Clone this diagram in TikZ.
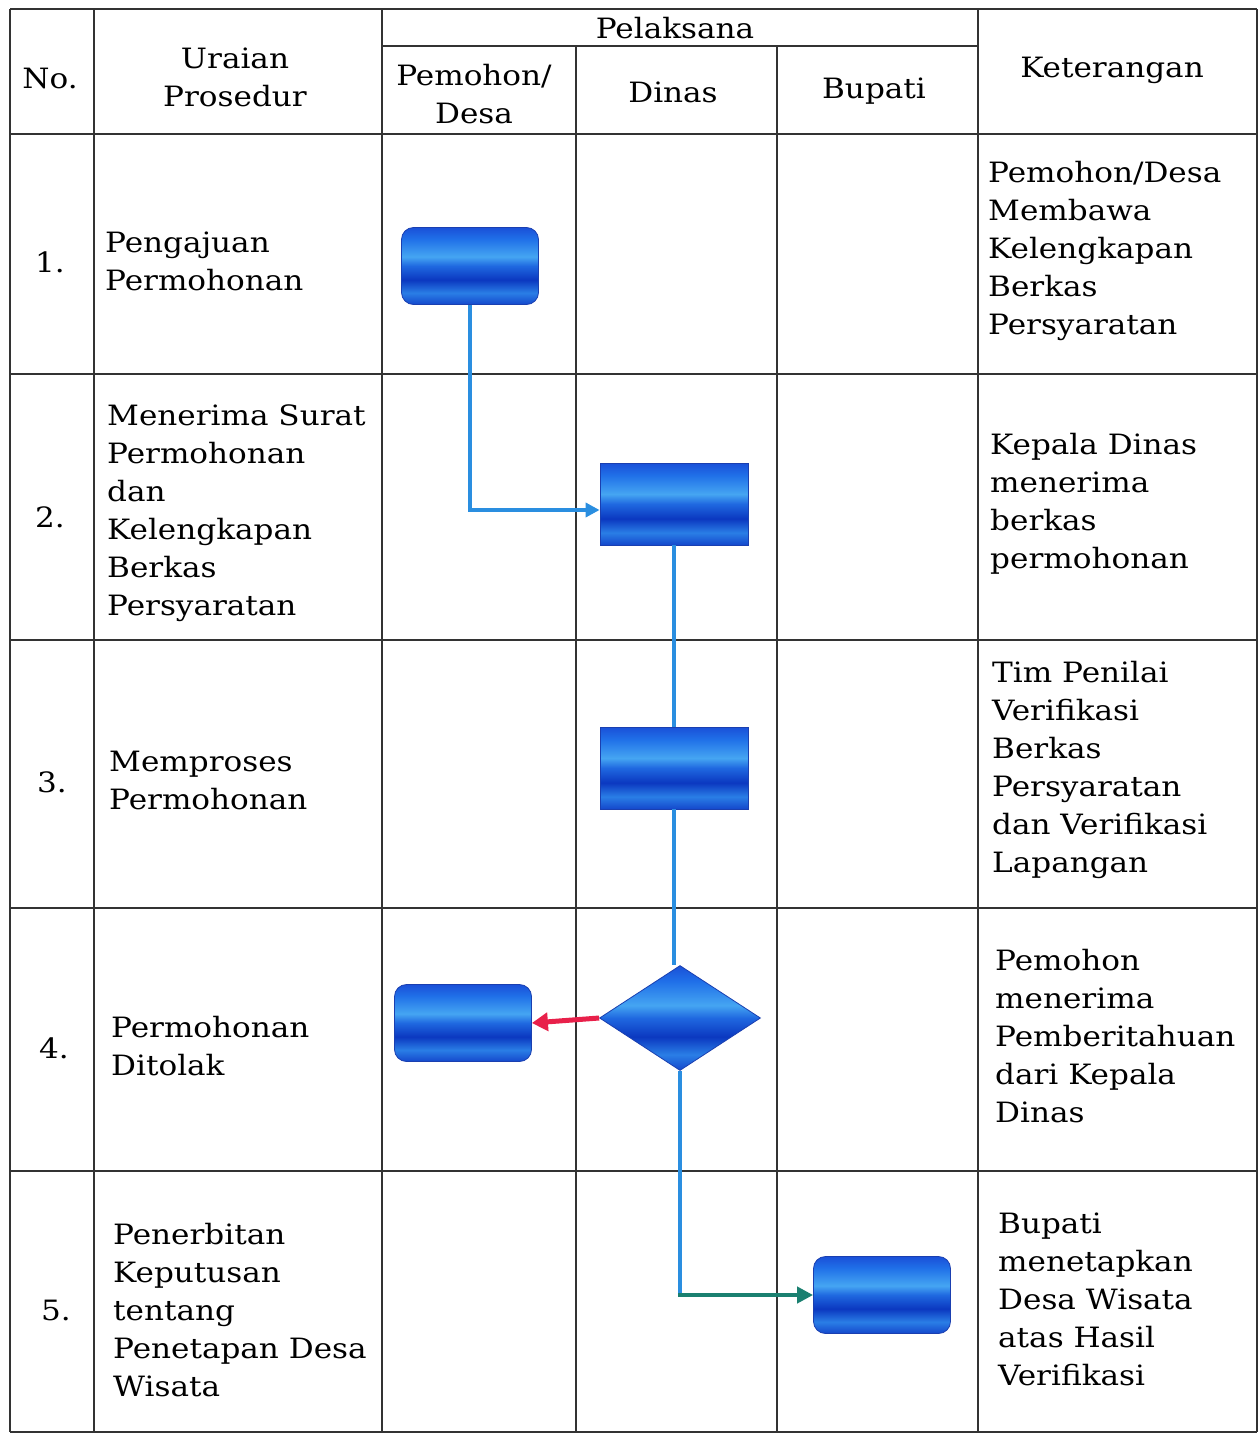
\documentclass[tikz,border=0pt]{standalone}
\usepackage{fontspec}
\setmainfont[FakeStretch=1.11]{DejaVu Serif}
\usetikzlibrary{arrows.meta,shapes.geometric}
\definecolor{bA}{HTML}{1448CC}
\definecolor{bB}{HTML}{2A7EE6}
\definecolor{bC}{HTML}{0B38C0}
\definecolor{bD}{HTML}{1F68E0}
\definecolor{bE}{HTML}{45A5F2}
\definecolor{bF}{HTML}{2070E8}
\definecolor{bG}{HTML}{1A50D8}
\definecolor{edgeblue}{HTML}{1A3FB0}
\definecolor{connblue}{HTML}{2A8EE0}
\definecolor{connred}{HTML}{E8204A}
\definecolor{connteal}{HTML}{1A8070}
\definecolor{gridc}{HTML}{333333}
\pgfdeclareverticalshading{bandblue}{100bp}{color(0bp)=(bA); color(25bp)=(bA); color(32.5bp)=(bB); color(41bp)=(bC); color(50bp)=(bD); color(56bp)=(bE); color(67.5bp)=(bF); color(75bp)=(bG); color(100bp)=(bG)}
\tikzset{
  grid/.style={line width=1.6pt, draw=gridc},
  txt/.style={inner sep=0pt, align=left, anchor=west, font=\fontsize{28}{38}\selectfont},
  hdr/.style={inner sep=0pt, align=center, font=\fontsize{28}{38}\selectfont},
  rbox/.style={rectangle, rounded corners=12pt, minimum width=137pt, minimum height=77pt, shading=bandblue, draw=edgeblue, line width=0.8pt},
  sbox/.style={rectangle, minimum width=148pt, minimum height=82pt, shading=bandblue, draw=edgeblue, line width=0.8pt},
  dia/.style={diamond, aspect=1.55, minimum width=161pt, minimum height=105pt, inner sep=0pt, shading=bandblue, draw=edgeblue, line width=0.8pt},
  conn/.style={line width=3.5pt, draw=connblue},
  connarrow/.style={conn, -{Triangle[length=14pt,width=14pt]}},
  redarrow/.style={line width=5pt, draw=connred, -{Triangle[length=16pt,width=18pt]}},
  tealarrow/.style={line width=4pt, draw=connteal, -{Triangle[length=16pt,width=16pt]}},
}
\begin{document}
\begin{tikzpicture}[x=1pt,y=-1pt]
\useasboundingbox (0,0) rectangle (1260,1435);
\fill[white] (0,0) rectangle (1260,1435);
% grid
\draw[grid] (10,9) -- (1257,9);
\draw[grid] (382,46) -- (978,46);
\foreach \yy in {134,374,640,908,1171,1432} \draw[grid] (10,\yy) -- (1257,\yy);
\foreach \xx in {10,94,382,978,1257} \draw[grid] (\xx,9) -- (\xx,1432);
\foreach \xx in {576,777} \draw[grid] (\xx,46) -- (\xx,1432);
% header
\node[hdr] (hNo) at (50,78) {No.};
\node[hdr] (hUr) at (235,77) {Uraian\\Prosedur};
\node[hdr] (hPel) at (675,28) {Pelaksana};
\node[hdr] (hPem) at (474,94) {Pemohon/\\Desa};
\node[hdr] (hDin) at (673,92) {Dinas};
\node[hdr] (hBup) at (874,91) {Bupati};
\node[hdr] (hKet) at (1112,70) {Keterangan};
% numbers
\node[hdr] (n1) at (50,262) {1.};
\node[hdr] (n2) at (50,517) {2.};
\node[hdr] (n3) at (52,782) {3.};
\node[hdr] (n4) at (54,1048) {4.};
\node[hdr] (n5) at (56,1310) {5.};
% uraian
\node[txt] (u1) at (105,261) {Pengajuan\\Permohonan};
\node[txt] (u2) at (107,513) {Menerima Surat\\Permohonan\\dan\\Kelengkapan\\Berkas\\Persyaratan};
\node[txt] (u3) at (109,780) {Memproses\\Permohonan};
\node[txt] (u4) at (111,1046) {Permohonan\\Ditolak};
\node[txt] (u5) at (113,1310) {Penerbitan\\Keputusan\\tentang\\Penetapan Desa\\Wisata};
% keterangan
\node[txt] (k1) at (988,251) {Pemohon/Desa\\Membawa\\Kelengkapan\\Berkas\\Persyaratan};
\node[txt] (k2) at (990,504) {Kepala Dinas\\menerima\\berkas\\permohonan};
\node[txt] (k3) at (992,770) {Tim Penilai\\Verifikasi\\Berkas\\Persyaratan\\dan Verifikasi\\Lapangan};
\node[txt] (k4) at (995,1036) {Pemohon\\menerima\\Pemberitahuan\\dari Kepala\\Dinas};
\node[txt] (k5) at (998,1299) {Bupati\\menetapkan\\Desa Wisata\\atas Hasil\\Verifikasi};
% shapes
\node[rbox] (b1) at (470,266) {};
\node[sbox] (b2) at (674,504) {};
\node[sbox] (b3) at (674,768) {};
\node[dia] (d) at (680,1018) {};
\node[rbox] (b4) at (463,1023) {};
\node[rbox] (b5) at (882,1295) {};
% connectors
\draw[connarrow] (b1.south) |- ([yshift=-6pt]b2.west);
\draw[conn] (b2.south) -- (b3.north);
\draw[conn] (b3.south) -- (b3.south |- d.north);
\draw[redarrow] (d.west) -- (b4.east);
\coordinate (c5) at (d.south |- b5.west);
\draw[conn] (d.south) -- (c5);
\draw[tealarrow] ([xshift=-2pt]c5) -- (b5.west);
\end{tikzpicture}
\end{document}
